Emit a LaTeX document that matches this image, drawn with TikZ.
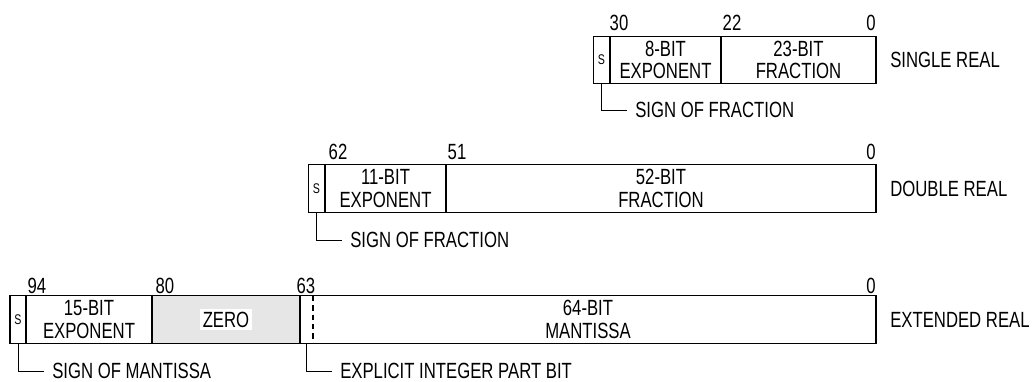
\documentclass[tikz,border=0pt]{standalone}
\usepackage{fontspec}
\setmainfont[FakeStretch=0.76]{Liberation Sans}
\usepackage{tikz}
\definecolor{zeroGray}{HTML}{E6E6E6}
\tikzset{
  field/.style={draw, line width=0.9pt, inner sep=0pt, outer sep=0pt, minimum height=35.5pt,
    align=center, font=\fontsize{16.5}{16.8}\selectfont},
  sbit/.style={field, minimum width=12.5pt, font=\fontsize{10.5}{12}\selectfont},
  bitno/.style={anchor=base, inner sep=0pt, font=\fontsize{16.5}{18}\selectfont},
  fmtname/.style={anchor=west, inner sep=0pt, font=\fontsize{16.5}{18}\selectfont},
  note/.style={anchor=west, inner sep=6pt, font=\fontsize{16.5}{18}\selectfont},
  leader/.style={line width=0.7pt}
}

\begin{document}
\begin{tikzpicture}[x=0.75pt, y=-0.75pt]
  \useasboundingbox (0,0) rectangle (1036,382);

  % single real
  \node[sbit] (sS) at (601.5,60) {S};
  \node[field, minimum width=83.25pt] (sExp) at (665.5,60) {8-BIT\\EXPONENT};
  \node[field, minimum width=116.25pt] (sFrac) at (798.5,60) {23-BIT\\FRACTION};
  \node[bitno] (sB30) at (619,31) {30};
  \node[bitno] (sB22) at (732,31) {22};
  \node[bitno] (sB0) at (871,31) {0};
  \node[fmtname] (sName) at (890,60) {SINGLE REAL};
  \node[note] (sSign) at (627,110) {SIGN OF FRACTION};
  \draw[leader] (sS.south) |- (sSign.west);

  % double real
  \node[sbit] (dS) at (316.5,188.5) {S};
  \node[field, minimum width=90.75pt] (dExp) at (385.5,188.5) {11-BIT\\EXPONENT};
  \node[field, minimum width=322.5pt] (dFrac) at (661,188.5) {52-BIT\\FRACTION};
  \node[bitno] (dB62) at (338,159) {62};
  \node[bitno] (dB51) at (457,159) {51};
  \node[bitno] (dB0) at (871,159) {0};
  \node[fmtname] (dName) at (890,188.5) {DOUBLE REAL};
  \node[note] (dSign) at (342,240) {SIGN OF FRACTION};
  \draw[leader] (dS.south) |- (dSign.west);

  % extended real
  \node[sbit, minimum width=12pt] (eS) at (18,319.5) {S};
  \node[field, minimum width=94.5pt] (eExp) at (89,319.5) {15-BIT\\EXPONENT};
  \node[field, minimum width=111pt, fill=zeroGray] (eZero) at (226,319.5) {};
  \node[fill=white, inner sep=2pt, font=\fontsize{16.5}{18}\selectfont] (eZeroTxt) at (eZero) {ZERO};
  \node[field, minimum width=432pt] (eMant) at (588,319.5) {64-BIT\\MANTISSA};
  \draw[line width=0.8pt, dash pattern=on 4pt off 3pt]
    ([xshift=9.75pt]eMant.north west) -- ([xshift=9.75pt]eMant.south west);
  \node[bitno] (eB94) at (37,293) {94};
  \node[bitno] (eB80) at (165,293) {80};
  \node[bitno] (eB63) at (306,293) {63};
  \node[bitno] (eB0) at (871,293) {0};
  \node[fmtname] (eName) at (890,319.5) {EXTENDED REAL};
  \node[note] (eSign) at (44,371) {SIGN OF MANTISSA};
  \draw[leader] (eS.south) |- (eSign.west);
  \coordinate (eInt) at ([xshift=4.5pt]eMant.south west);
  \node[note] (eIntTxt) at (332,371) {EXPLICIT INTEGER PART BIT};
  \draw[leader] (eInt) |- (eIntTxt.west);
\end{tikzpicture}
\end{document}
